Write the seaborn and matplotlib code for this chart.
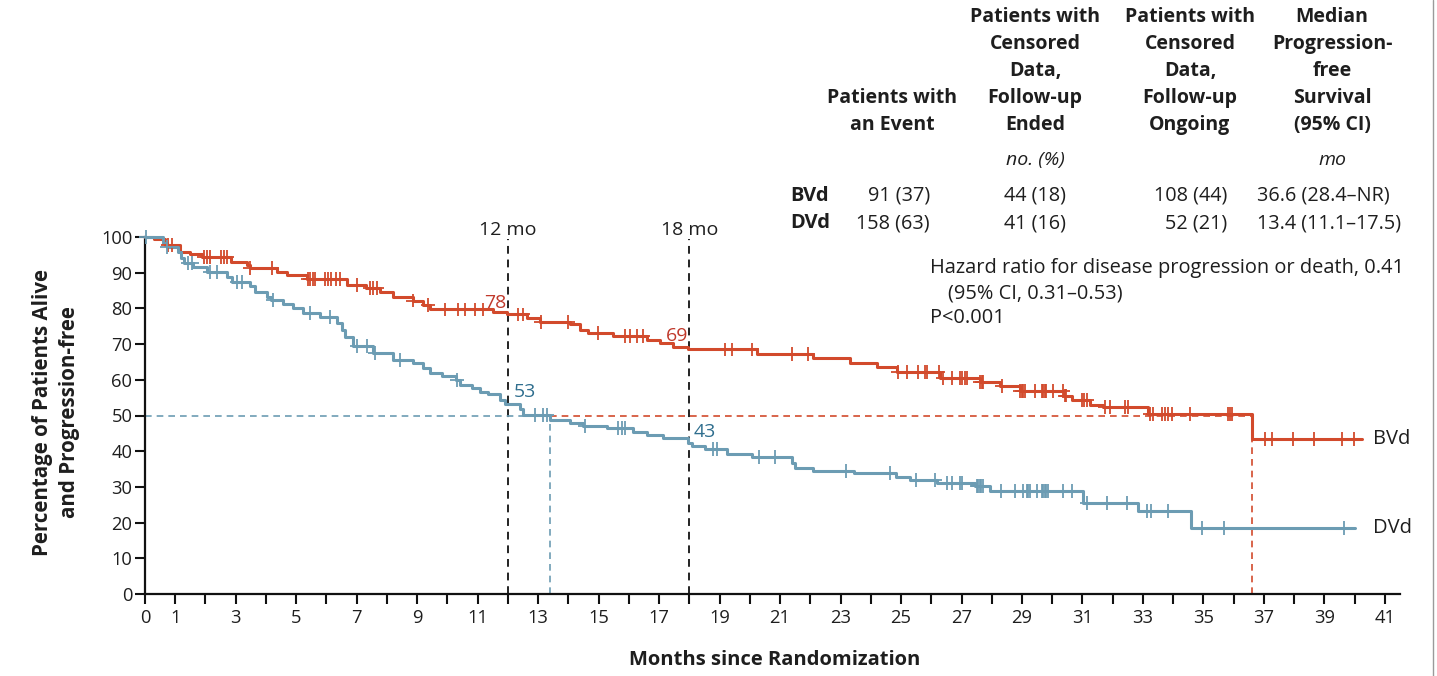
import numpy as np
import pandas as pd
import matplotlib
matplotlib.use("Agg")
import matplotlib.pyplot as plt
import seaborn as sns
from matplotlib.lines import Line2D

# ---------------- data ----------------
bvd_times = [0, 0.3, 0.66, 1.16, 1.49, 1.87, 2.85, 3.36, 3.47, 4.35, 4.68, 5.35, 6.67, 7.3,
             7.77, 8.21, 8.87, 9.2, 9.42, 11.52, 11.96, 12.62, 13.06, 14.06, 14.39, 14.66,
             15.49, 16.59, 17.03, 17.47, 17.97, 20.23, 22.10, 23.31, 24.20, 24.86, 26.29,
             27.61, 28.27, 28.93, 30.40, 30.65, 31.25, 31.69, 33.18, 36.60, 40.25]
bvd_surv = [100, 99.4, 97.8, 95.9, 95.2, 94.5, 92.9, 92.2, 91.3, 90.3, 89.4, 88.2, 86.6, 85.6,
            84.5, 83.2, 82.2, 81.0, 79.7, 78.9, 78.3, 77.2, 76.3, 75.5, 73.9, 73.0,
            72.3, 71.1, 70.2, 69.3, 68.5, 67.2, 66.0, 64.8, 63.7, 62.3, 60.5,
            59.5, 58.3, 56.9, 55.6, 54.3, 53.0, 52.3, 50.3, 43.3, 43.3]
bvd_censor = [0.77, 0.88, 1.95, 2.05, 2.15, 2.5, 2.6, 2.7, 3.47, 4.19, 5.40, 5.47, 5.54, 5.62,
              5.95, 6.05, 6.15, 6.3, 6.45, 7.0, 7.44, 7.55, 7.66, 8.87, 9.36, 9.92, 10.36,
              10.58, 10.91, 11.19, 12.35, 12.51, 13.1, 14.0, 14.99, 15.87, 16.04, 16.26,
              16.48, 19.18, 19.40, 20.06, 21.39, 21.94, 24.91, 25.19, 25.57, 25.79, 25.85,
              26.24, 26.40, 26.67, 26.95, 27.0, 27.11, 27.17, 27.61, 27.67, 27.72, 28.33,
              28.93, 28.99, 29.04, 29.1, 29.43, 29.65, 29.7, 29.76, 29.81, 30.03, 30.36,
              30.42, 30.47, 30.98, 31.06, 31.14, 31.75, 31.91, 32.41, 32.52, 33.23, 33.34,
              33.62, 33.73, 33.84, 33.95, 34.55, 35.82, 35.88, 35.93, 37.04, 37.26, 37.95,
              38.67, 39.57, 39.98]

dvd_times = [0, 0.6, 0.72, 1.10, 1.18, 1.30, 1.60, 2.04, 2.70, 2.87, 3.47, 3.64, 4.02, 4.15,
             4.57, 4.90, 5.24, 5.79, 6.34, 6.50, 6.61, 6.89, 7.55, 8.21, 8.87, 9.20, 9.42,
             9.81, 10.30, 10.42, 10.80, 11.08, 11.35, 11.74, 11.90, 12.40, 12.50, 13.39,
             14.06, 14.50, 15.27, 16.15, 16.59, 17.14, 17.95, 18.10, 18.52, 19.24, 20.06,
             21.39, 21.50, 22.10, 23.43, 24.85, 25.29, 26.18, 27.45, 27.94, 31.03, 32.85,
             34.60, 40.0]
dvd_surv = [100, 98.2, 97.3, 95.9, 94.0, 92.6, 91.5, 90.3, 88.9, 87.5, 86.3, 84.7, 83.3, 82.4,
            81.2, 80.0, 78.6, 77.5, 75.8, 73.9, 72.1, 69.5, 67.6, 65.5, 64.6, 63.2, 62.0,
            61.1, 59.9, 58.5, 57.6, 56.7, 56.0, 54.3, 53.2, 51.7, 50.1, 48.7,
            48.0, 47.1, 46.4, 45.5, 44.5, 43.6, 42.4, 41.5, 40.5, 39.2, 38.3,
            36.6, 35.2, 34.5, 34.0, 32.9, 31.9, 31.0, 30.3, 28.8, 25.6, 23.2,
            18.6, 18.6]
dvd_censor = [0.02, 0.72, 1.43, 1.54, 2.15, 2.37, 3.03, 3.20, 4.24, 5.46, 6.12, 7.0, 7.33, 7.6,
              8.43, 10.31, 12.9, 13.17, 13.28, 14.55, 15.65, 15.76, 15.87, 18.79, 18.9,
              20.32, 20.83, 23.17, 24.64, 25.51, 26.12, 26.51, 26.67, 26.95, 27.0, 27.5,
              27.55, 27.6, 27.65, 27.7, 28.3, 28.77, 29.04, 29.15, 29.21, 29.26, 29.48,
              29.65, 29.7, 29.76, 29.81, 29.87, 30.36, 30.64, 31.14, 31.8, 32.46, 33.15,
              33.25, 33.82, 34.95, 35.68, 39.66]

median_bvd = 36.6
median_dvd = 13.4
landmarks = [12, 18]
landmark_labels = ["12 mo", "18 mo"]
bvd_landmark_vals = ["78", "69"]
dvd_landmark_vals = ["53", "43"]

x_ticks = list(range(0, 42))
x_labeled = [0, 1, 3, 5, 7, 9, 11, 13, 15, 17, 19, 21, 23, 25, 27, 29, 31, 33, 35, 37, 39, 41]
y_ticks = list(range(0, 101, 10))

table_headers = [["Patients with", "an Event"],
                 ["Patients with", "Censored", "Data,", "Follow-up", "Ended"],
                 ["Patients with", "Censored", "Data,", "Follow-up", "Ongoing"],
                 ["Median", "Progression-", "free", "Survival", "(95% CI)"]]
table_units = ["", "no. (%)", "", "mo"]
row_names = ["BVd", "DVd"]
row_events = ["91 (37)", "158 (63)"]
row_cens_ended = ["44 (18)", "41 (16)"]
row_cens_ongoing = ["108 (44)", "52 (21)"]
row_median = ["36.6 (28.4\u2013NR)", "13.4 (11.1\u201317.5)"]
hr_lines = ["Hazard ratio for disease progression or death, 0.41",
            "(95% CI, 0.31\u20130.53)",
            "P<0.001"]

RED = "#D24A2C"
BLUE = "#6C9CB3"
RED_TXT = "#C0392B"
BLUE_TXT = "#2F6E8E"
TXT = "#1e1e1e"

# ---------------- figure ----------------
sns.set_theme(style="ticks")
plt.rcParams["font.family"] = ["Open Sans", "DejaVu Sans"]

W, H = 1437, 676
fig = plt.figure(figsize=(W / 100, H / 100), dpi=100)
fig.patch.set_facecolor("white")
ax = fig.add_axes([145 / W, 82 / H, 1255 / W, 357 / H])
ax.set_facecolor("white")


def fx(px):
    return px / W


def fy(py):
    return 1 - py / H


curves = pd.concat([
    pd.DataFrame({"Months": bvd_times, "Pct": bvd_surv, "Arm": "BVd"}),
    pd.DataFrame({"Months": dvd_times, "Pct": dvd_surv, "Arm": "DVd"}),
], ignore_index=True)


def step_lookup(times, surv, ts):
    times = np.asarray(times)
    surv = np.asarray(surv)
    idx = np.searchsorted(times, ts, side="right") - 1
    return surv[np.clip(idx, 0, len(surv) - 1)]


cens = pd.concat([
    pd.DataFrame({"Months": bvd_censor, "Pct": step_lookup(bvd_times, bvd_surv, bvd_censor), "Arm": "BVd"}),
    pd.DataFrame({"Months": dvd_censor, "Pct": step_lookup(dvd_times, dvd_surv, dvd_censor), "Arm": "DVd"}),
], ignore_index=True)

palette = {"BVd": RED, "DVd": BLUE}

# reference lines
for lm in landmarks:
    ax.plot([lm, lm], [0, 99.5], ls=(0, (4, 3)), color="#222222", lw=1.4, zorder=1)
ax.plot([0, median_dvd], [50, 50], ls=(0, (4, 3)), color=BLUE, lw=1.2, zorder=1)
ax.plot([median_dvd, median_dvd], [0, 50], ls=(0, (4, 3)), color=BLUE, lw=1.2, zorder=1)
ax.plot([median_dvd, median_bvd], [50, 50], ls=(0, (4, 3)), color=RED, lw=1.2, zorder=1)
ax.plot([median_bvd, median_bvd], [0, 50], ls=(0, (4, 3)), color=RED, lw=1.2, zorder=1)

sns.lineplot(data=curves, x="Months", y="Pct", hue="Arm", palette=palette,
             estimator=None, sort=False, drawstyle="steps-post", linewidth=2.2,
             legend=False, ax=ax, clip_on=False, zorder=3)
sns.scatterplot(data=cens, x="Months", y="Pct", hue="Arm", palette=palette,
                marker="+", s=100, linewidth=1.3, legend=False, ax=ax,
                clip_on=False, zorder=4)

ax.set_xlim(0, 41.5)
ax.set_ylim(0, 100)
ax.set_xticks(x_ticks)
ax.set_xticklabels([str(t) if t in x_labeled else "" for t in x_ticks])
ax.set_yticks(y_ticks)
ax.tick_params(axis="both", which="major", length=7, width=1.5, color="#111111",
               labelsize=13.2, labelcolor=TXT, pad=2)
ax.tick_params(axis="x", pad=4)
for sp in ["top", "right"]:
    ax.spines[sp].set_visible(False)
for sp in ["left", "bottom"]:
    ax.spines[sp].set_linewidth(1.6)
    ax.spines[sp].set_color("#111111")
ax.set_xlabel("")
ax.set_ylabel("")

# axis titles
fig.text(fx(775), fy(660), "Months since Randomization", ha="center", va="center",
         fontsize=14.5, fontweight="bold", color=TXT)
fig.text(fx(43), fy(412), "Percentage of Patients Alive", ha="center",
         va="center", rotation=90, fontsize=14.8, fontweight="bold", color=TXT)
fig.text(fx(70), fy(412), "and Progression-free", ha="center",
         va="center", rotation=90, fontsize=14.8, fontweight="bold", color=TXT)

# landmark labels
for lm, lab in zip(landmarks, landmark_labels):
    ax.text(lm, 102, lab, ha="center", va="center", fontsize=14, color=TXT, clip_on=False)
ax.text(11.95, 81.5, bvd_landmark_vals[0], ha="right", va="center", fontsize=14, color=RED_TXT)
ax.text(17.95, 72.3, bvd_landmark_vals[1], ha="right", va="center", fontsize=14, color=RED_TXT)
ax.text(12.2, 56.5, dvd_landmark_vals[0], ha="left", va="center", fontsize=14, color=BLUE_TXT)
ax.text(18.15, 45.3, dvd_landmark_vals[1], ha="left", va="center", fontsize=14, color=BLUE_TXT)

# end-of-curve labels
ax.text(40.6, bvd_surv[-1], "BVd", ha="left", va="center", fontsize=14.5, color=TXT, clip_on=False)
ax.text(40.6, dvd_surv[-1], "DVd", ha="left", va="center", fontsize=14.5, color=TXT, clip_on=False)

# table
col_x = [892, 1035, 1190, 1332]
for cx, hdr in zip(col_x, table_headers):
    n = len(hdr)
    for j, line in enumerate(hdr):
        cy = 124 - 27 * (n - 1 - j)
        fig.text(fx(cx), fy(cy + 6), line, ha="center", va="baseline", fontsize=14,
                 fontweight="bold", color=TXT)
for cx, u in zip(col_x, table_units):
    if u:
        fig.text(fx(cx), fy(160), u, ha="center", va="center", fontsize=14,
                 style="italic", color=TXT)
row_y = [196, 223]
for i, ry in enumerate(row_y):
    fig.text(fx(790), fy(ry), row_names[i], ha="left", va="center", fontsize=14.5,
             fontweight="bold", color=TXT)
    fig.text(fx(930), fy(ry), row_events[i], ha="right", va="center", fontsize=14.3, color=TXT)
    fig.text(fx(1035), fy(ry), row_cens_ended[i], ha="center", va="center", fontsize=14.3, color=TXT)
    fig.text(fx(1227), fy(ry), row_cens_ongoing[i], ha="right", va="center", fontsize=14.3, color=TXT)
    fig.text(fx(1257), fy(ry), row_median[i], ha="left", va="center", fontsize=14.3, color=TXT)

# hazard ratio text
fig.text(fx(930), fy(268), hr_lines[0], ha="left", va="center", fontsize=14.4, color=TXT)
fig.text(fx(948), fy(293), hr_lines[1], ha="left", va="center", fontsize=14.4, color=TXT)
fig.text(fx(930), fy(318), hr_lines[2], ha="left", va="center", fontsize=14.4, color=TXT)

# right border line
fig.add_artist(Line2D([fx(1433), fx(1433)], [0, 1], color="#9a9a9a", lw=1.0))

fig.savefig("out.png", dpi=100, facecolor="white")
